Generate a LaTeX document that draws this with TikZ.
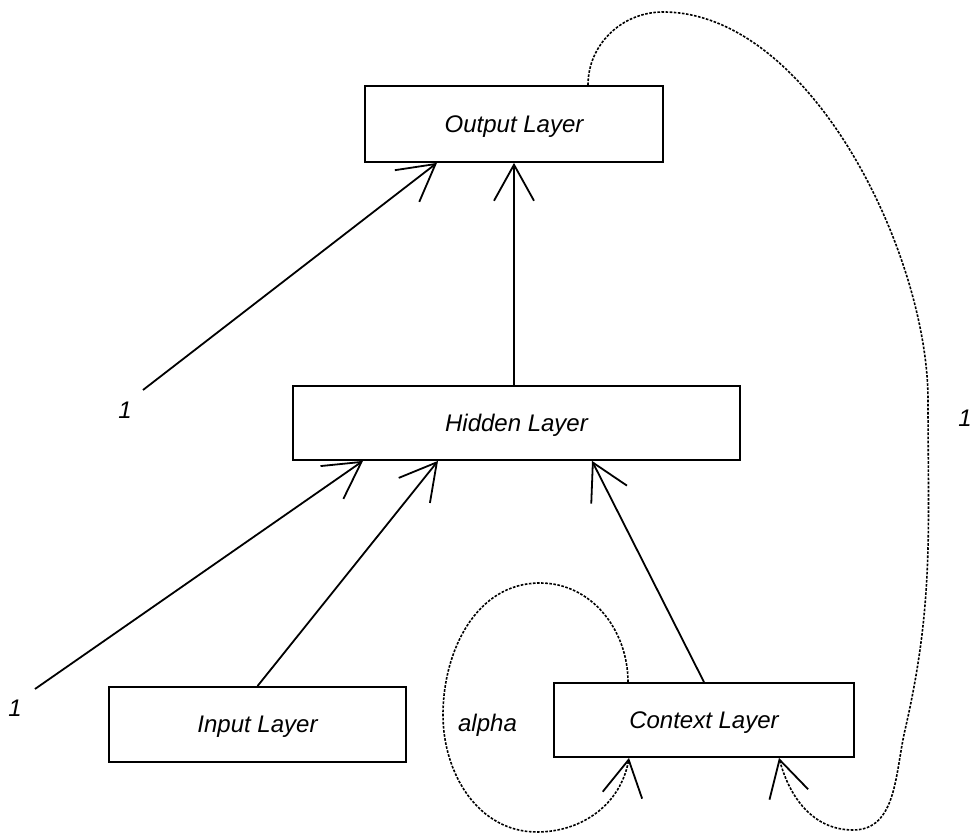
\documentclass[tikz,border=0pt]{standalone}
\usepackage{fontspec}
\setmainfont{Liberation Sans}
\usetikzlibrary{arrows.meta}
\begin{document}
\begin{tikzpicture}[x=1pt,y=1pt,
  layer/.style={draw, line width=1.8pt, inner sep=0pt, text depth=0pt,
    font=\fontsize{24}{28}\selectfont\itshape},
  lbl/.style={inner sep=0pt, font=\fontsize{24}{28}\selectfont\itshape},
  arr/.style={line width=1.8pt, -{Straight Barb[length=36pt,width=40pt,line width=1.8pt]}},
  recur/.style={line width=1.6pt, dash pattern=on 2.6pt off 1.5pt,
    -{Straight Barb[length=36pt,width=40pt,line width=1.8pt,sep=0pt]}}]
\useasboundingbox (0,0) rectangle (970,834);

% layers
\node[layer, minimum width=298pt, minimum height=76pt] (out) at (514,710) {Output Layer};
\node[layer, minimum width=447pt, minimum height=74pt] (hid) at (516.5,411) {Hidden Layer};
\node[layer, minimum width=297pt, minimum height=75pt] (inp) at (257.5,109.5) {Input Layer};
\node[layer, minimum width=300pt, minimum height=74pt] (ctx) at (704,114) {Context Layer};

% bias inputs and labels
\coordinate (b1) at (143,444);
\coordinate (b2) at (35,145);
\node[lbl] (one1) at (125,424) {1};
\node[lbl] (one2) at (15,126) {1};
\node[lbl] (one3) at (965,416) {1};
\node[lbl, anchor=base] (alpha) at (487.5,102) {alpha};

% feed-forward connections
\draw[arr] (b1) -- ([xshift=-77pt]out.south);
\draw[arr] (hid.north -| out.south) -- (out.south);
\draw[arr] (b2) -- ([xshift=-153.5pt]hid.south);
\draw[arr] (inp.north) -- ([xshift=-78.5pt]hid.south);
\draw[arr] (ctx.north) -- ([xshift=75.5pt]hid.south);

% self-recurrence of the context layer (alpha)
\coordinate (atop) at (540,251);
\coordinate (aleft) at (443,119);
\coordinate (abot) at (537,2);
\draw[recur] ([xshift=-76pt]ctx.north) to[out=90,in=0] (atop)
  to[out=180,in=90] (aleft) to[out=-90,in=180] (abot)
  to[out=0,in=-100] ([xshift=-75pt]ctx.south);

% copy of the output back into the context layer
\coordinate (ctop) at (663,822);
\coordinate (cr2) at (928,434);
\coordinate (cr3) at (905,104);
\coordinate (cbot) at (853,4);
\draw[recur] ([xshift=74pt]out.north) to[out=90,in=180] (ctop)
  to[out=0,in=90,looseness=0.8] (cr2)
  to[out=-90,in=77] (cr3) to[out=-103,in=0] (cbot)
  to[out=180,in=-75] ([xshift=75pt]ctx.south);
\end{tikzpicture}
\end{document}
